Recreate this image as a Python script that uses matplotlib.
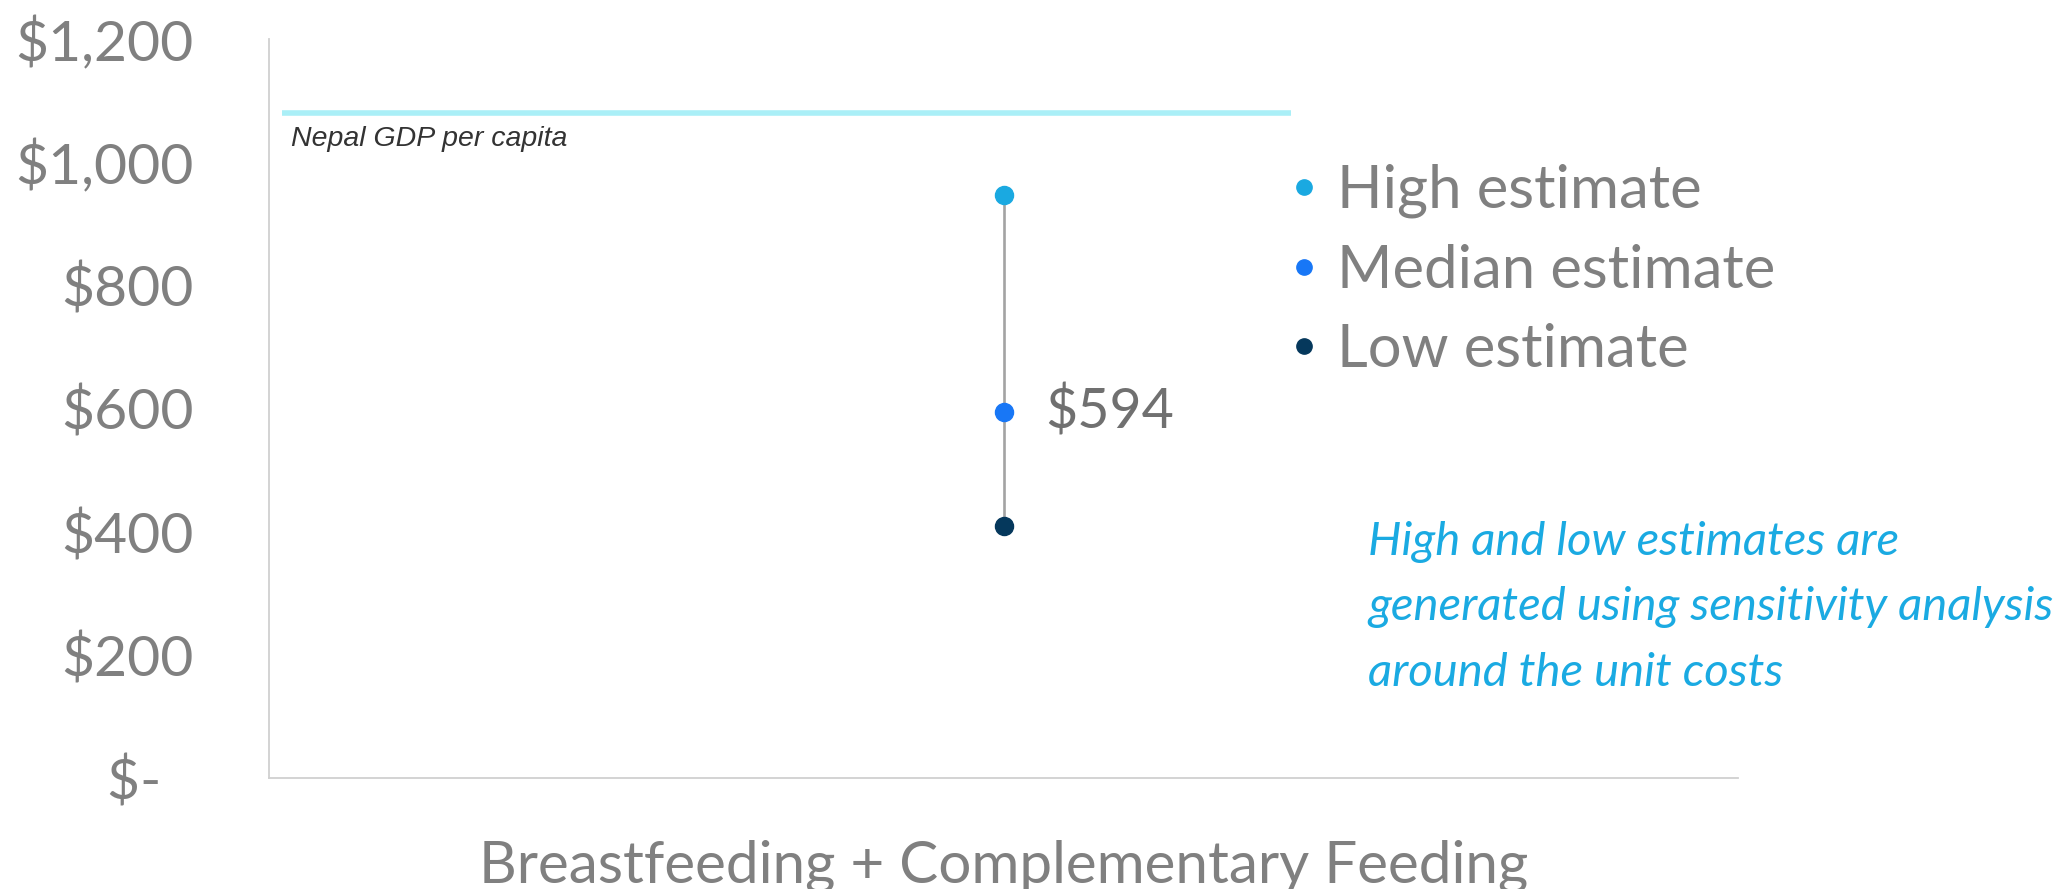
import matplotlib
matplotlib.use('Agg')
import matplotlib.pyplot as plt
from matplotlib.lines import Line2D

# ---- data ----
category = ["Breastfeeding + Complementary Feeding"]
estimate_names = ["High estimate", "Median estimate", "Low estimate"]
estimate_values = [946, 594, 409]
estimate_colors = ["#1aa9e1", "#1877f6", "#05385c"]
gdp_per_capita = 1080
y_ticks = [0, 200, 400, 600, 800, 1000, 1200]
y_tick_labels = ["$-\u2007", "$200", "$400", "$600", "$800", "$1,000", "$1,200"]
note = "High and low estimates are\ngenerated using sensitivity analysis\naround the unit costs"

plt.rcParams['font.family'] = ['Lato', 'DejaVu Sans']

GRAY = '#808080'

fig = plt.figure(figsize=(20.57, 8.89), dpi=100)
fig.patch.set_facecolor('white')
ax = fig.add_axes([269 / 2057, 111 / 889, 1469 / 2057, 739 / 889])

# connector between low and high
ax.plot([0, 0], [min(estimate_values), max(estimate_values)], color='#a3a3a3', lw=1.9, zorder=2)

handles = []
for name, val, col in zip(estimate_names, estimate_values, estimate_colors):
    ax.plot([0], [val], 'o', color=col, markersize=13, zorder=3)
    handles.append(Line2D([], [], marker='o', color=col, linestyle='none', markersize=11, label=name))

# median label
ax.annotate("$" + str(estimate_values[1]), xy=(0, estimate_values[1]), xytext=(30, 0),
            textcoords='offset points', va='center', ha='left', fontsize=40, color='#707070')

# GDP per capita reference
ax.plot([-0.491, 0.196], [gdp_per_capita, gdp_per_capita], color='#aaeff7', lw=4, solid_capstyle='butt', zorder=1)
ax.text(-0.485, gdp_per_capita - 22, "Nepal GDP per capita", family=['Liberation Sans'], style='italic',
        fontsize=20.5, color='#333333', va='top', ha='left')

ax.set_xlim(-0.5, 0.5)
ax.set_ylim(0, 1200)
ax.set_xticks([0])
ax.set_xticklabels(category, fontsize=42, color=GRAY)
ax.set_yticks(y_ticks)
ax.set_yticklabels(y_tick_labels, fontsize=41, color=GRAY)
ax.tick_params(axis='both', length=0)
ax.tick_params(axis='y', pad=54)
ax.tick_params(axis='x', pad=44)

for s in ['top', 'right']:
    ax.spines[s].set_visible(False)
for s in ['left', 'bottom']:
    ax.spines[s].set_color('#d0d0d0')
    ax.spines[s].set_linewidth(1.3)

leg = fig.legend(handles=handles, loc='upper left', bbox_to_anchor=(1274 / 2057, 1 - 164 / 889),
                 frameon=False, fontsize=43, handletextpad=0.05, labelspacing=0.42,
                 handlelength=1.0, borderaxespad=0, borderpad=0)
for t in leg.get_texts():
    t.set_color(GRAY)

fig.text(1368 / 2057, 1 - 521 / 889, note, style='italic', fontsize=34, color='#1aaae2',
         va='top', ha='left', linespacing=1.69)

plt.savefig('out.png', dpi=100, facecolor='white')
